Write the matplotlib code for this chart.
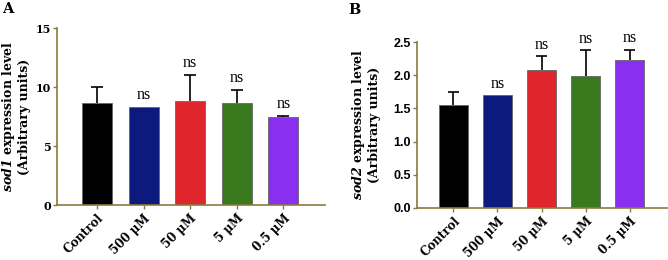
import matplotlib
matplotlib.use('Agg')
import matplotlib.pyplot as plt

groups = ['Control', '500 μM', '50 μM', '5 μM', '0.5 μM']
colors = ['#000000', '#0b1a7c', '#e0262c', '#3a7a1e', '#8a2ff0']

sod1_mean = [8.63, 8.35, 8.86, 8.69, 7.50]
sod1_err = [1.42, 0.0, 2.18, 1.07, 0.08]
sod1_sig = ['', 'ns', 'ns', 'ns', 'ns']

sod2_mean = [1.545, 1.70, 2.085, 1.99, 2.225]
sod2_err = [0.20, 0.0, 0.20, 0.385, 0.16]
sod2_sig = ['', 'ns', 'ns', 'ns', 'ns']

plt.rcParams['mathtext.fontset'] = 'custom'
plt.rcParams['mathtext.bfit'] = 'DejaVu Serif:bold:italic'
plt.rcParams['mathtext.rm'] = 'DejaVu Serif:bold'

SERIF = 'DejaVu Serif'
SPINE = '#8a7a3a'

fig = plt.figure(figsize=(6.68, 2.6), dpi=100)


def panel(rect, mean, err, sig, ylim, yticks, ylab, tickfont, ticksize,
          xlim, width, ns_pad, labelpad):
    ax = fig.add_axes(rect)
    x = list(range(len(groups)))
    ax.bar(x, mean, width=width, color=colors, edgecolor='#666666',
           linewidth=0.6, zorder=2)
    # upper-only error bars, drawn above the bar top
    for xi, m, e in zip(x, mean, err):
        if e > 0:
            ax.vlines(xi, m, m + e, color='black', linewidth=1.2, zorder=1)
            ax.hlines(m + e, xi - 0.13, xi + 0.13, color='black',
                      linewidth=1.2, zorder=1)
    for xi, m, e, s in zip(x, mean, err, sig):
        if s:
            ax.text(xi, m + e + ns_pad, s, ha='center', va='bottom',
                    fontsize=11.5, family='Liberation Serif')
    ax.set_xlim(*xlim)
    ax.set_ylim(*ylim)
    ax.set_yticks(yticks)
    ax.set_xticks(x)
    ax.set_xticklabels(groups, rotation=45, ha='right', va='top',
                       rotation_mode='anchor', fontsize=8.6, family=SERIF,
                       fontweight='bold')
    for lab in ax.get_yticklabels():
        lab.set_fontsize(ticksize)
        lab.set_family(tickfont)
        lab.set_fontweight('bold')
    for side in ['top', 'right']:
        ax.spines[side].set_visible(False)
    for side in ['left', 'bottom']:
        ax.spines[side].set_color(SPINE)
        ax.spines[side].set_linewidth(1.2)
    ax.tick_params(axis='y', length=3, width=1, color=SPINE, pad=1.5)
    ax.tick_params(axis='x', length=3, width=1, color=SPINE, pad=2)
    ax.set_ylabel(ylab, fontsize=9, family=SERIF, fontweight='bold',
                  labelpad=labelpad, linespacing=1.1)
    return ax


panel([0.0853, 0.2115, 0.401, 0.68], sod1_mean, sod1_err, sod1_sig,
      (0, 15), [0, 5, 10, 15],
      '$\\mathbfit{sod1}$ expression level\n(Arbitrary units)',
      SERIF, 8, (-0.86, 4.89), 0.64, 0.3, 3)
panel([0.624, 0.2, 0.374, 0.638], sod2_mean, sod2_err, sod2_sig,
      (0, 2.5), [0.0, 0.5, 1.0, 1.5, 2.0, 2.5],
      '$\\mathbfit{sod2}$ expression level\n(Arbitrary units)',
      'Liberation Sans', 9, (-0.83, 4.84), 0.66, 0.05, 9)

fig.text(0.003, 0.965, 'A', fontsize=10.5, fontweight='bold', family=SERIF,
         va='center')
fig.text(0.522, 0.96, 'B', fontsize=10.5, fontweight='bold', family=SERIF,
         va='center')

fig.savefig('out.png', dpi=100)
